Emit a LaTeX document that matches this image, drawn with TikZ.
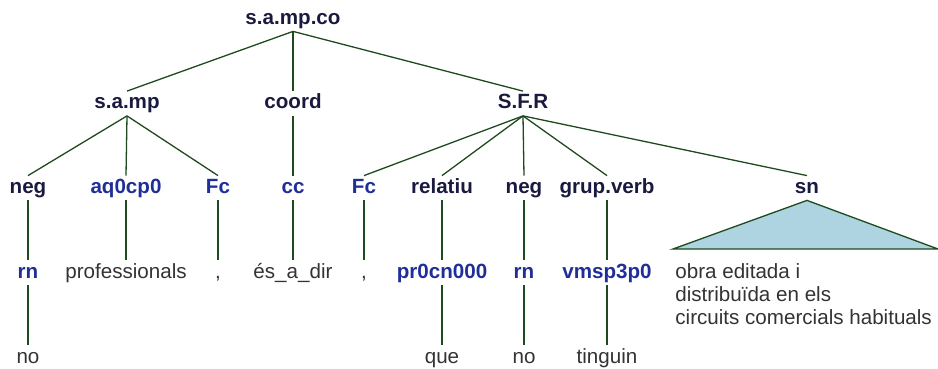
\documentclass[tikz,border=0pt]{standalone}
\usepackage{fontspec}
\setmainfont{Liberation Sans}
\usetikzlibrary{positioning}
\definecolor{navy}    {HTML}{1A1A40}
\definecolor{tagblue} {HTML}{1F2E99}
\definecolor{wordgray}{HTML}{333333}
\definecolor{branch}  {HTML}{1F4A1F}
\definecolor{leafsky} {HTML}{ADD4E0}
\tikzset{
  lvl/.style  = {inner sep=0pt, minimum height=12pt,
                 text height=7.5pt, text depth=2pt,
                 font=\fontsize{10.3}{11.5}\selectfont},
  cat/.style  = {lvl, font=\fontsize{10.3}{11.5}\selectfont\bfseries, text=navy},
  tag/.style  = {lvl, font=\fontsize{10.3}{11.5}\selectfont\bfseries, text=tagblue},
  word/.style = {lvl, text=wordgray},
  edge/.style = {draw=branch, line width=0.65pt},
}
\begin{document}
\begin{tikzpicture}[x=0.5pt, y=-0.5pt, node distance=30pt]
  \useasboundingbox (0,0) rectangle (938,369);

  % top levels
  \node[cat] (root)  at (293,19)    {s.a.mp.co};
  \node[cat] (samp)  at (127,103.5) {s.a.mp};
  \node[cat] (coord) at (293,103.5) {coord};
  \node[cat] (sfr)   at (523,103.5) {S.F.R};

  % categories and tags
  \node[cat] (neg1) at (28,188)  {neg};
  \node[tag] (aq)   at (126,188) {aq0cp0};
  \node[tag] (fc1)  at (218,188) {Fc};
  \node[tag] (cc)   at (293,188) {cc};
  \node[tag] (fc2)  at (364,188) {Fc};
  \node[cat] (rel)  at (442,188) {relatiu};
  \node[cat] (neg2) at (524,188) {neg};
  \node[cat] (gv)   at (607,188) {grup.verb};
  \node[cat] (sn)   at (807,188) {sn};

  \node[tag]  (rn1)    [below=of neg1] {rn};
  \node[word] (prof)   [below=of aq]   {professionals};
  \node[word] (comma1) [below=of fc1]  {,};
  \node[word] (esa)    [below=of cc]   {és\_a\_dir};
  \node[word] (comma2) [below=of fc2]  {,};
  \node[tag]  (pr)     [below=of rel]  {pr0cn000};
  \node[tag]  (rn2)    [below=of neg2] {rn};
  \node[tag]  (vm)     [below=of gv]   {vmsp3p0};

  \node[word] (no1)  [below=of rn1] {no};
  \node[word] (que)  [below=of pr]  {que};
  \node[word] (no2)  [below=of rn2] {no};
  \node[word] (ting) [below=of vm]  {tinguin};

  \foreach \a/\b in {root/samp, root/coord, root/sfr,
                     samp/neg1, samp/aq, samp/fc1, coord/cc,
                     sfr/fc2, sfr/rel, sfr/neg2, sfr/gv, sfr/sn,
                     neg1/rn1, aq/prof, fc1/comma1, cc/esa, fc2/comma2,
                     rel/pr, neg2/rn2, gv/vm,
                     rn1/no1, pr/que, rn2/no2, vm/ting}
    \draw[edge] (\a.south) -- (\b.north);

  % collapsed sn
  \coordinate (snl) at (673,249);
  \coordinate (snr) at (938,249);
  \draw[edge, fill=leafsky] (sn.south) -- (snl) -- (snr) -- cycle;
  \node[inner sep=0pt, anchor=north west, align=left, text=wordgray,
        font=\fontsize{10.3}{11.5}\selectfont] (snleaf) at (675,263)
    {obra editada i\\distribuïda en els\\circuits comercials habituals};

\end{tikzpicture}
\end{document}
